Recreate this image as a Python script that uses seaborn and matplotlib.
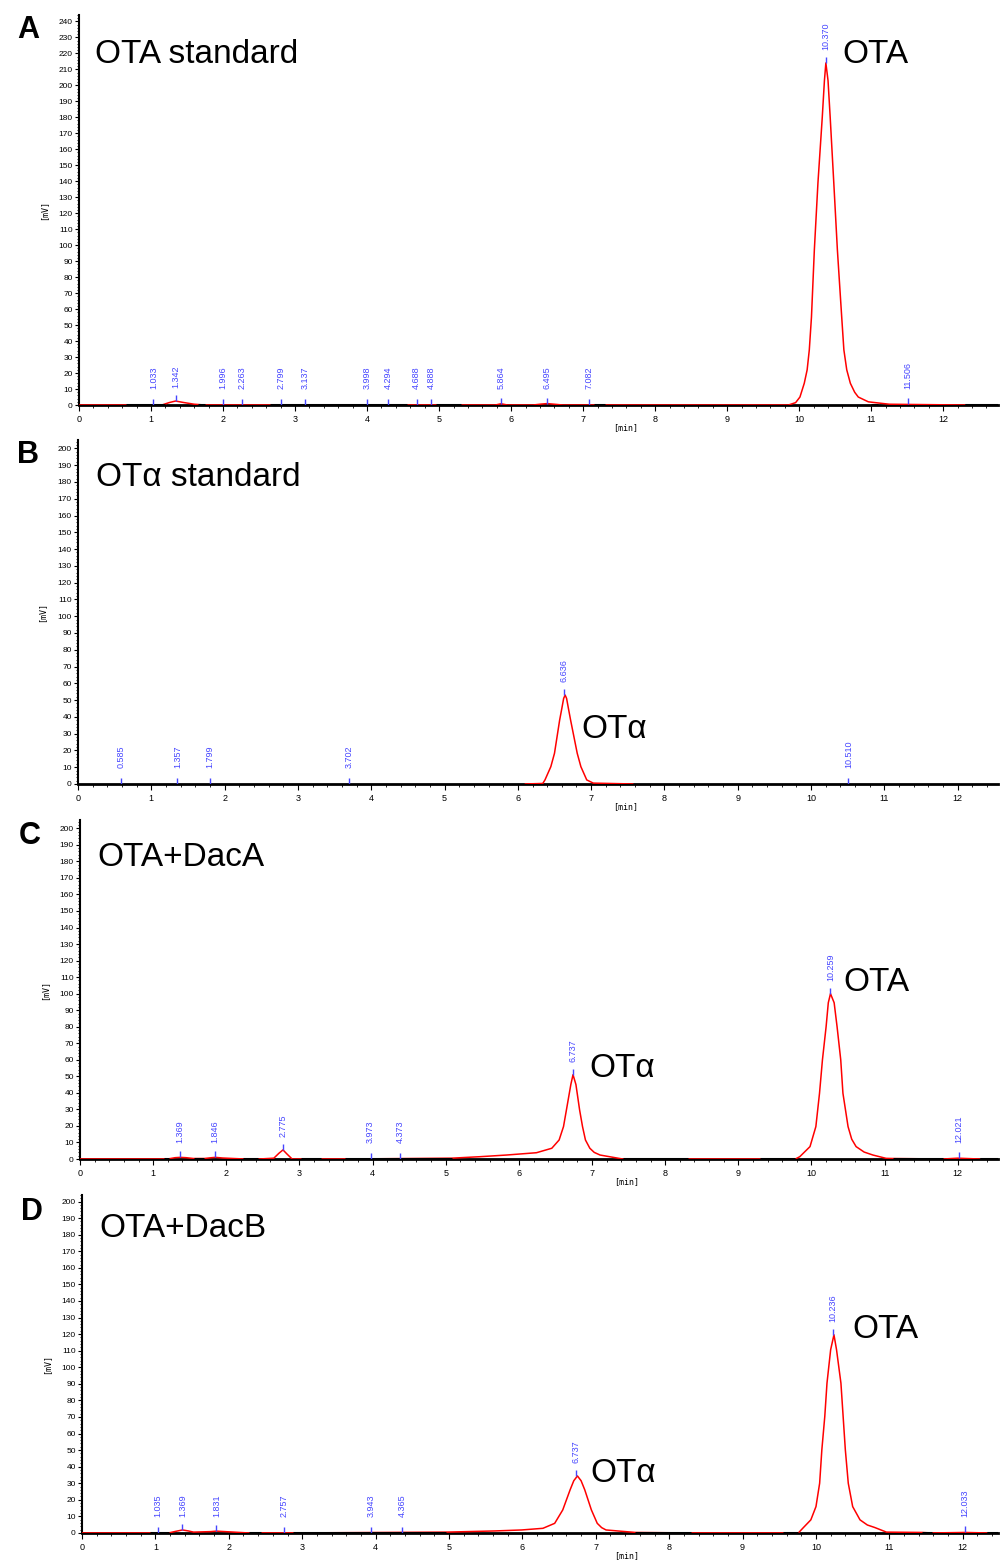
import matplotlib
matplotlib.use("Agg")
import matplotlib.pyplot as plt
import seaborn as sns
import pandas as pd
from matplotlib.ticker import MultipleLocator

# ---- data (time in min, signal in mV) ----
A_time = [0.0, 1.15, 1.25, 1.34, 1.45, 1.6, 1.75, 5.78, 5.86, 5.95, 6.3, 6.42, 6.5, 6.6, 6.72,
          9.85, 9.95, 10.01, 10.07, 10.11, 10.14, 10.17, 10.21, 10.26, 10.32, 10.35, 10.37,
          10.40, 10.43, 10.48, 10.53, 10.59, 10.62, 10.66, 10.71, 10.77, 10.82, 10.96, 11.25, 12.3]
A_signal = [0, 0, 1.5, 2.5, 1.6, 0.5, 0, 0, 0.8, 0, 0, 0.6, 0.9, 0.5, 0,
            0, 1.5, 5, 13.6, 22, 34.5, 55, 97, 139, 180, 203, 214,
            203, 180, 139, 97, 55, 34.5, 22, 13.6, 8, 5, 2, 0.5, 0]
A_rt = [1.033, 1.342, 1.996, 2.263, 2.799, 3.137, 3.998, 4.294, 4.688, 4.888,
        5.864, 6.495, 7.082, 10.370, 11.506]
A_peak = [0, 2.5, 0, 0, 0, 0, 0, 0, 0, 0, 0.8, 0.9, 0, 214, 0.5]
A_gap_start = [0.65, 1.65, 2.65, 4.95, 7.15, 11.0, 12.3]
A_gap_end = [1.2, 1.75, 4.55, 5.3, 7.3, 11.1, 12.76]

B_time = [6.1, 6.34, 6.37, 6.45, 6.50, 6.57, 6.60, 6.625, 6.645, 6.665, 6.69, 6.72, 6.81,
          6.86, 6.94, 7.03, 7.57]
B_signal = [0, 0.3, 2.4, 10.3, 18.3, 38, 45, 51, 53, 51, 45, 38, 18.3,
            10.3, 2.4, 0.5, 0]
B_rt = [0.585, 1.357, 1.799, 3.702, 6.636, 10.510]
B_peak = [0, 0, 0, 0, 53, 0]
B_gap_start = []
B_gap_end = []

C_time = [0, 1.2, 1.3, 1.37, 1.45, 1.55, 1.7, 1.8, 1.85, 1.95, 2.25, 2.45, 2.65, 2.72, 2.775,
          2.83, 2.9, 3.3, 3.65, 5.08, 5.47, 5.83, 6.24, 6.45, 6.55, 6.61, 6.65, 6.71, 6.74,
          6.78, 6.83, 6.87, 6.91, 6.97, 7.03, 7.11, 7.38, 7.42, 8.31, 9.29, 9.78, 9.84, 9.98,
          10.06, 10.11, 10.15, 10.20, 10.23, 10.26, 10.31, 10.35, 10.40, 10.43, 10.50, 10.55,
          10.61, 10.72, 10.84, 11.02, 11.11, 11.8, 12.0, 12.3]
C_signal = [0, 0, 0.8, 1.0, 0.8, 0.3, 0.3, 0.8, 1.0, 0.6, 0, 0, 0.5, 3.5, 5.5,
            3, 0, 0, 0, 0.5, 1.4, 2.4, 3.8, 6.5, 11.5, 19.6, 29.7, 45, 51,
            45, 29.7, 19.6, 11.5, 6.5, 4.0, 2.4, 0.3, 0, 0, 0, 0, 1.4, 7.5,
            19.6, 39.8, 60, 80, 94.5, 100, 94.5, 80, 60, 39.8, 19.6, 12.0,
            7.5, 4.2, 2.4, 0.4, 0.3, 0, 0.5, 0]
C_rt = [1.369, 1.846, 2.775, 3.973, 4.373, 6.737, 10.259, 12.021]
C_peak = [1.0, 1.0, 5.5, 0, 0, 51, 100, 0.5]
C_gap_start = [1.15, 1.56, 2.23, 3.02, 3.62, 7.42, 9.29, 11.11, 12.3]
C_gap_end = [1.22, 1.70, 2.43, 3.30, 5.09, 8.31, 9.78, 11.8, 12.55]

D_time = [0, 0.92, 1.18, 1.28, 1.369, 1.45, 1.52, 1.75, 1.831, 1.95, 2.27, 2.44, 2.87, 4.96,
          5.62, 5.99, 6.28, 6.44, 6.55, 6.65, 6.70, 6.75, 6.80, 6.85, 6.94, 7.02, 7.08, 7.14,
          7.54, 8.3, 9.55, 9.76, 9.83, 9.93, 10.00, 10.05, 10.08, 10.12, 10.15, 10.20, 10.245,
          10.28, 10.34, 10.37, 10.40, 10.44, 10.50, 10.60, 10.70, 10.80, 10.96, 11.44, 11.58,
          12.033, 12.33]
D_signal = [0, 0, 0, 1.0, 1.8, 1.2, 0.5, 0.8, 1.1, 0.8, 0, 0, 0, 0.5,
            1.2, 1.8, 2.8, 5.8, 13.9, 26, 31.5, 34.4, 31.5, 26, 13.9, 5.8, 3.2, 1.8,
            0.3, 0, 0, 0, 3.3, 7.9, 15.9, 30, 50.2, 70.3, 90.4, 110.6, 119.6,
            110.6, 90.4, 70.3, 50.2, 30, 15.9, 7.9, 4.8, 3.3, 0.5, 0.3, 0,
            0.3, 0]
D_rt = [1.035, 1.369, 1.831, 2.757, 3.943, 4.365, 6.737, 10.236, 12.033]
D_peak = [0, 1.8, 1.1, 0, 0, 0, 34.4, 119.6, 0.3]
D_gap_start = [0.92, 2.27, 2.87, 7.54, 9.55, 11.44, 12.33]
D_gap_end = [1.18, 2.44, 4.96, 8.3, 9.76, 11.58, 12.48]

letters = ["A", "B", "C", "D"]
titles = ["OTA standard", "OTα standard", "OTA+DacA", "OTA+DacB"]
peak_names = [["OTA"], ["OTα"], ["OTα", "OTA"], ["OTα", "OTA"]]
y_max = [244, 205, 205, 204]
x_max = [12.76, 12.55, 12.55, 12.48]

# ---- layout (figure fractions) ----
rects = [[0.079, 0.7407, 0.919, 0.2497],
         [0.078, 0.4981, 0.920, 0.2202],
         [0.080, 0.2580, 0.918, 0.2170],
         [0.082, 0.0186, 0.916, 0.2164]]
letter_pos = [(0.028, 0.981), (0.028, 0.709), (0.030, 0.4648), (0.032, 0.224)]
title_pos = [(0.095, 0.9648), (0.096, 0.694), (0.097, 0.4513), (0.099, 0.2132)]
name_pos = [[(10.60, 219)], [(6.86, 32.7)], [(6.96, 55), (10.44, 107)],
            [(6.93, 36), (10.49, 122.7)]]

panels = [(A_time, A_signal, A_rt, A_peak, A_gap_start, A_gap_end),
          (B_time, B_signal, B_rt, B_peak, B_gap_start, B_gap_end),
          (C_time, C_signal, C_rt, C_peak, C_gap_start, C_gap_end),
          (D_time, D_signal, D_rt, D_peak, D_gap_start, D_gap_end)]

sns.set_theme(style="ticks")
plt.rcParams['font.family'] = ['Liberation Sans', 'DejaVu Sans']
for key in ['text.color', 'axes.labelcolor', 'xtick.color', 'ytick.color', 'axes.edgecolor']:
    plt.rcParams[key] = 'black'

blue = '#4646ff'
mono = 'DejaVu Sans Mono'

fig = plt.figure(figsize=(10, 15.62), dpi=100)

for i, (t, s, rt, pk, g0, g1) in enumerate(panels):
    ax = fig.add_axes(rects[i])
    df = pd.DataFrame({'time': t, 'signal': s})
    sns.lineplot(data=df, x='time', y='signal', ax=ax, color='red', lw=1.1,
                 sort=False, estimator=None, zorder=3)
    ax.set_xlim(0, x_max[i])
    ax.set_ylim(0, y_max[i])
    ppu = rects[i][3] * 1562 / y_max[i]

    if g0:
        ax.hlines([0] * len(g0), g0, g1, color='black', lw=2.2, zorder=4)

    # retention-time markers and labels
    for r, h in zip(rt, pk):
        ax.vlines(r, h, h + 6 / ppu, color=blue, lw=1, zorder=5)
        off = max(13, 16 - h * ppu)
        ax.annotate(f"{r:.3f}", xy=(r, h), xytext=(0, off), textcoords='offset pixels',
                    rotation=90, ha='center', va='bottom', fontsize=6.5, color=blue)

    for name, (nx, ny) in zip(peak_names[i], name_pos[i]):
        ax.text(nx, ny, name, fontsize=24, ha='left', va='center', color='black')

    sns.despine(ax=ax)
    ax.spines['left'].set_linewidth(1.5)
    ax.spines['bottom'].set_linewidth(2)
    ax.spines['bottom'].set_zorder(2)
    ax.yaxis.set_major_locator(MultipleLocator(10))
    ax.yaxis.set_minor_locator(MultipleLocator(2))
    ax.xaxis.set_major_locator(MultipleLocator(1))
    ax.xaxis.set_minor_locator(MultipleLocator(0.2))
    ax.tick_params(axis='y', which='major', length=3, width=0.8, labelsize=6, pad=1.5)
    ax.tick_params(axis='y', which='minor', length=1.5, width=0.6)
    ax.tick_params(axis='x', which='major', length=4, width=0.8, labelsize=6.5, pad=3)
    ax.tick_params(axis='x', which='minor', length=2, width=0.6)

    ax.set_xlabel('')
    ax.set_ylabel('[mV]', fontsize=6, family=mono)
    ax.yaxis.set_label_coords(-0.034, 0.5)
    ax.annotate('[min]', xy=(0.595, 0), xycoords='axes fraction', xytext=(0, -23),
                textcoords='offset pixels', ha='center', va='center', fontsize=6, family=mono)

    fig.text(*letter_pos[i], letters[i], fontsize=22, fontweight='bold', ha='center', va='center')
    fig.text(*title_pos[i], titles[i], fontsize=24, ha='left', va='center')

fig.savefig('out.png', dpi=100)
